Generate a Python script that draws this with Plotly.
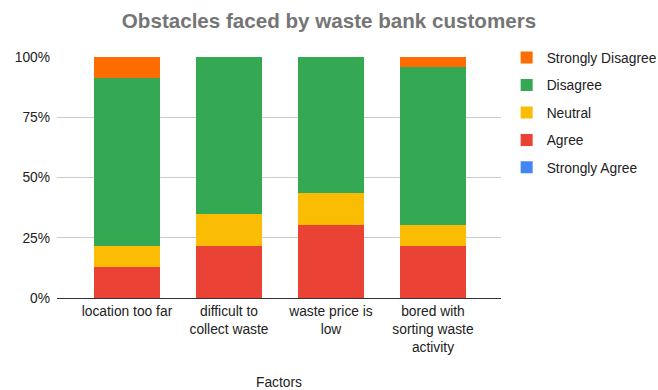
import plotly.graph_objects as go

categories = ["location too far", "difficult to<br>collect waste", "waste price is<br>low", "bored with<br>sorting waste<br>activity"]
series_names = ["Strongly Agree", "Agree", "Neutral", "Disagree", "Strongly Disagree"]
strongly_agree = [0, 0, 0, 0]
agree = [3, 5, 7, 5]
neutral = [2, 3, 3, 2]
disagree = [16, 15, 13, 15]
strongly_disagree = [2, 0, 0, 1]
colors = ["#4285F4", "#EA4335", "#FBBC04", "#34A853", "#FF6D01"]
y_ticks = [0, 25, 50, 75, 100]
y_tick_labels = ["0%", "25%", "50%", "75%", "100%"]

series = [strongly_agree, agree, neutral, disagree, strongly_disagree]

fig = go.Figure()
for i, (name, vals, col) in enumerate(zip(series_names, series, colors)):
    fig.add_trace(go.Bar(
        x=categories, y=vals, name=name, marker_color=col,
        marker_line_width=0, width=0.647, legendgroup=name,
        legendrank=1000 - i,
    ))

font_family = "Liberation Sans, Arial, sans-serif"
fig.update_layout(
    barmode="stack",
    barnorm="percent",
    width=658, height=390,
    margin=dict(l=57, r=157, t=57, b=92, autoexpand=False),
    paper_bgcolor="white", plot_bgcolor="white",
    font=dict(family=font_family, size=13.8, color="#222222"),
    title=dict(text="<b>Obstacles faced by waste bank customers</b>", x=0.5, xanchor="center",
               xref="container", y=0.947, yanchor="middle",
               font=dict(size=20.6, color="#757575", family=font_family)),
    legend=dict(traceorder="grouped", xref="container", x=0.770, xanchor="left",
                yref="container", y=0.892, yanchor="top",
                font=dict(size=13.8, color="#222222"), tracegroupgap=6.5,
                itemwidth=30, bgcolor="rgba(0,0,0,0)"),
    xaxis=dict(range=[-0.686, 3.667], showgrid=False, showline=False, ticks="",
               automargin=False, ticklabelstandoff=3,
               tickfont=dict(size=13.8, color="#222222"),
               title=dict(text="Factors", font=dict(size=13.8, color="#222222"), standoff=32)),
    yaxis=dict(range=[0, 100], tickvals=y_ticks, ticktext=y_tick_labels, automargin=False,
               gridcolor="#CCCCCC", gridwidth=1, zeroline=True, zerolinecolor="#333333",
               zerolinewidth=1, showline=False, ticks="", ticklabelstandoff=6,
               tickfont=dict(size=13.8, color="#222222")),
)

fig.write_html("out.html")
